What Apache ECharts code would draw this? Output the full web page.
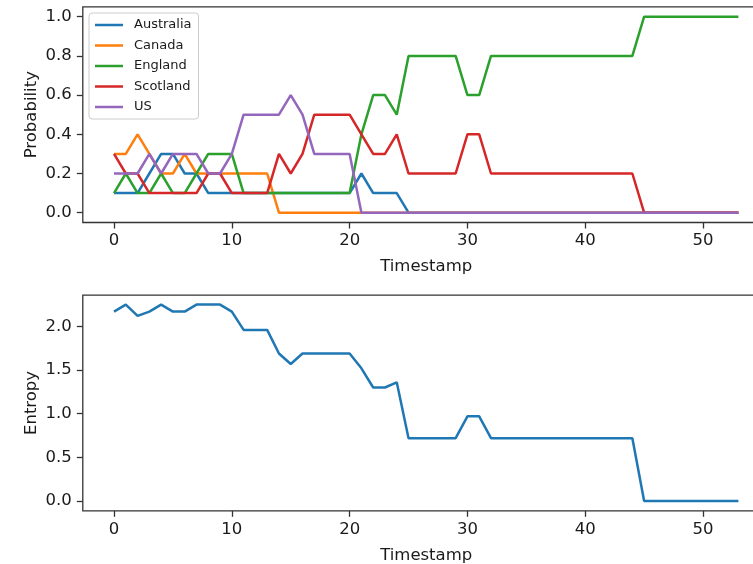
<!DOCTYPE html>
<html>
<head>
<meta charset="utf-8">
<script src="https://cdn.jsdelivr.net/npm/echarts@6/dist/echarts.min.js"></script>
<style>
html,body{margin:0;padding:0;background:#fff;}
#chart{width:753px;height:564px;}
</style>
</head>
<body>
<div id="chart"></div>
<script>
var timestamps = [0,1,2,3,4,5,6,7,8,9,10,11,12,13,14,15,16,17,18,19,20,21,22,23,24,25,26,27,28,29,30,31,32,33,34,35,36,37,38,39,40,41,42,43,44,45,46,47,48,49,50,51,52,53];
var countries = ['Australia','Canada','England','Scotland','US'];
var australia = [0.1,0.1,0.1,0.2,0.3,0.3,0.2,0.2,0.1,0.1,0.1,0.1,0.1,0.1,0.1,0.1,0.1,0.1,0.1,0.1,0.1,0.2,0.1,0.1,0.1,0,0,0,0,0,0,0,0,0,0,0,0,0,0,0,0,0,0,0,0,0,0,0,0,0,0,0,0,0];
var canada = [0.3,0.3,0.4,0.3,0.2,0.2,0.3,0.2,0.2,0.2,0.2,0.2,0.2,0.2,0,0,0,0,0,0,0,0,0,0,0,0,0,0,0,0,0,0,0,0,0,0,0,0,0,0,0,0,0,0,0,0,0,0,0,0,0,0,0,0];
var england = [0.1,0.2,0.1,0.1,0.2,0.1,0.1,0.2,0.3,0.3,0.3,0.1,0.1,0.1,0.1,0.1,0.1,0.1,0.1,0.1,0.1,0.4,0.6,0.6,0.5,0.8,0.8,0.8,0.8,0.8,0.6,0.6,0.8,0.8,0.8,0.8,0.8,0.8,0.8,0.8,0.8,0.8,0.8,0.8,0.8,1,1,1,1,1,1,1,1,1];
var scotland = [0.3,0.2,0.2,0.1,0.1,0.1,0.1,0.1,0.2,0.2,0.1,0.1,0.1,0.1,0.3,0.2,0.3,0.5,0.5,0.5,0.5,0.4,0.3,0.3,0.4,0.2,0.2,0.2,0.2,0.2,0.4,0.4,0.2,0.2,0.2,0.2,0.2,0.2,0.2,0.2,0.2,0.2,0.2,0.2,0.2,0,0,0,0,0,0,0,0,0];
var us = [0.2,0.2,0.2,0.3,0.2,0.3,0.3,0.3,0.2,0.2,0.3,0.5,0.5,0.5,0.5,0.6,0.5,0.3,0.3,0.3,0.3,0,0,0,0,0,0,0,0,0,0,0,0,0,0,0,0,0,0,0,0,0,0,0,0,0,0,0,0,0,0,0,0,0];
var entropy = [2.17,2.25,2.12,2.17,2.25,2.17,2.17,2.25,2.25,2.25,2.17,1.96,1.96,1.96,1.69,1.57,1.69,1.69,1.69,1.69,1.69,1.52,1.30,1.30,1.36,0.72,0.72,0.72,0.72,0.72,0.97,0.97,0.72,0.72,0.72,0.72,0.72,0.72,0.72,0.72,0.72,0.72,0.72,0.72,0.72,0,0,0,0,0,0,0,0,0];
var xTicks = [0,10,20,30,40,50];
var probTicks = [0,0.2,0.4,0.6,0.8,1.0];
var entropyTicks = [0,0.5,1.0,1.5,2.0];

var probSeries = [australia, canada, england, scotland, us];
var colors = ['#1f77b4','#ff7f0e','#2ca02c','#d62728','#9467bd'];
var FONT = 'DejaVu Sans';
var TXT = '#1a1a1a';
var SPINE = '#333333';
// legend line sample: thin bar centred in a 28x14 box (tiny corner specks fix the box)
var LINE_ICON = 'path://M0,0L0.02,0L0.02,0.02L0,0.02Z M0,5.75L28,5.75L28,8.25L0,8.25Z M27.98,13.98L28,13.98L28,14L27.98,14Z';

function pairs(ys){ return timestamps.map(function(t,i){ return [t, ys[i]]; }); }

function xAxisCfg(gi){
  return {
    type:'value', gridIndex:gi, min:-2.65, max:55.65,
    name:'Timestamp', nameLocation:'middle', nameGap:36, nameMoveOverlap:false,
    nameTextStyle:{fontFamily:FONT,fontSize:16.5,color:TXT},
    axisLine:{show:false,onZero:false},
    splitLine:{show:false},
    axisTick:{show:true,length:6,lineStyle:{color:SPINE,width:1.3},customValues:xTicks},
    axisLabel:{fontFamily:FONT,fontSize:16.5,color:TXT,margin:10,customValues:xTicks,formatter:function(v){return String(v);}}
  };
}
function yAxisCfg(gi,name,min,max,ticks){
  return {
    type:'value', gridIndex:gi, min:min, max:max,
    name:name, nameLocation:'middle', nameGap:43, nameMoveOverlap:false,
    nameTextStyle:{fontFamily:FONT,fontSize:16.5,color:TXT},
    axisLine:{show:false,onZero:false},
    splitLine:{show:false},
    axisTick:{show:true,length:6,lineStyle:{color:SPINE,width:1.3},customValues:ticks},
    axisLabel:{fontFamily:FONT,fontSize:16.5,color:TXT,margin:11,customValues:ticks,formatter:function(v){return v.toFixed(1);}}
  };
}

var series = countries.map(function(n,k){
  return {name:n,type:'line',xAxisIndex:0,yAxisIndex:0,data:pairs(probSeries[k]),
    symbol:'none',showSymbol:false,lineStyle:{width:2.5,color:colors[k]},itemStyle:{color:colors[k]}};
});
series.push({name:'Entropy',type:'line',xAxisIndex:1,yAxisIndex:1,data:pairs(entropy),
  symbol:'none',showSymbol:false,lineStyle:{width:2.5,color:colors[0]},itemStyle:{color:colors[0]}});

var chart = echarts.init(document.getElementById('chart'),null,{renderer:'canvas'});
chart.setOption({
  animation:false,
  backgroundColor:'#fff',
  textStyle:{fontFamily:FONT},
  grid:[
    {left:82.8,top:6.9,width:686.8,height:215.6,show:true,borderColor:SPINE,borderWidth:1.3,backgroundColor:'transparent',containLabel:false,outerBoundsMode:'none'},
    {left:82.8,top:295.1,width:686.8,height:215.7,show:true,borderColor:SPINE,borderWidth:1.3,backgroundColor:'transparent',containLabel:false,outerBoundsMode:'none'}
  ],
  xAxis:[xAxisCfg(0),xAxisCfg(1)],
  yAxis:[yAxisCfg(0,'Probability',-0.05,1.05,probTicks),yAxisCfg(1,'Entropy',-0.1123,2.3587,entropyTicks)],
  legend:{
    data:countries.map(function(n,k){ return {name:n, icon:LINE_ICON, itemStyle:{color:colors[k], borderWidth:0}}; }),
    orient:'vertical', left:89, top:13,
    padding:[5,7,5,6], itemGap:6.5, itemWidth:28, itemHeight:14,
    backgroundColor:'rgba(255,255,255,0.8)', borderColor:'#cccccc', borderWidth:1, borderRadius:3,
    textStyle:{fontFamily:FONT,fontSize:13,color:TXT,padding:[0,0,0,6]},
    selectedMode:false
  },
  series:series
});
</script>
</body>
</html>
